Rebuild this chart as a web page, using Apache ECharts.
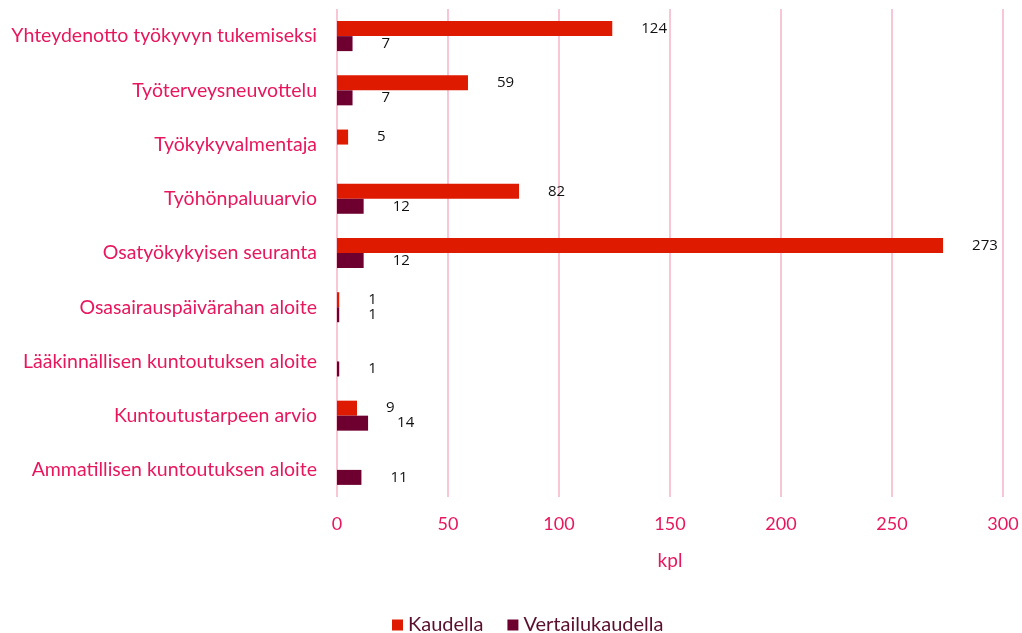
<!DOCTYPE html>
<html>
<head>
<meta charset="utf-8">
<script src="https://cdn.jsdelivr.net/npm/echarts@6/dist/echarts.min.js"></script>
<style>
  html, body { margin: 0; padding: 0; background: #fff; }
  #chart { width: 1022px; height: 633px; }
</style>
</head>
<body>
<div id="chart"></div>
<script>
var categories = [
    'Yhteydenotto työkyvyn tukemiseksi',
    'Työterveysneuvottelu',
    'Työkykyvalmentaja',
    'Työhönpaluuarvio',
    'Osatyökykyisen seuranta',
    'Osasairauspäivärahan aloite',
    'Lääkinnällisen kuntoutuksen aloite',
    'Kuntoutustarpeen arvio',
    'Ammatillisen kuntoutuksen aloite'
];
var kaudella = [124, 59, 5, 82, 273, 1, null, 9, null];
var vertailukaudella = [7, 7, null, 12, 12, 1, 1, 14, 11];
var xTicks = [0, 50, 100, 150, 200, 250, 300];

var pink = '#E8175D';
var font = 'Lato';

var chart = echarts.init(document.getElementById('chart'), null, {renderer: 'canvas'});

var valueLabel = {
    show: true,
    position: 'right',
    distance: 29,
    color: '#111',
    fontSize: 15,
    fontFamily: 'Open Sans',
    padding: [3, 0, 0, 0]
};

chart.setOption({
    animation: false,
    textStyle: {fontFamily: font},
    grid: {left: 337, right: 19, top: 9, bottom: 136, containLabel: false},
    legend: {
        top: 610,
        left: 387,
        itemWidth: 11,
        itemHeight: 11,
        itemGap: 24,
        itemTextGap: 7,
        icon: 'rect',
        textStyle: {color: '#5A0F2E', fontSize: 20, fontFamily: font},
        data: ['Kaudella', 'Vertailukaudella']
    },
    xAxis: {
        type: 'value',
        min: xTicks[0],
        max: xTicks[xTicks.length - 1],
        interval: 50,
        name: 'kpl',
        nameLocation: 'middle',
        nameGap: 54,
        nameTextStyle: {color: pink, fontSize: 19, fontFamily: font},
        axisLine: {show: false},
        axisTick: {show: false},
        axisLabel: {color: pink, fontSize: 18, margin: 18, fontFamily: font},
        splitLine: {lineStyle: {color: '#F9C6D6', width: 2}}
    },
    yAxis: {
        type: 'category',
        inverse: true,
        data: categories,
        axisLine: {show: false},
        axisTick: {show: false},
        axisLabel: {color: pink, fontSize: 19.5, margin: 20, fontFamily: font}
    },
    series: [
        {
            name: 'Kaudella',
            type: 'bar',
            data: kaudella,
            barWidth: 15,
            barGap: '0%',
            itemStyle: {color: '#DE1A00'},
            label: valueLabel
        },
        {
            name: 'Vertailukaudella',
            type: 'bar',
            data: vertailukaudella,
            barWidth: 15,
            barGap: '0%',
            itemStyle: {color: '#6E0030'},
            label: valueLabel
        }
    ]
});
</script>
</body>
</html>
